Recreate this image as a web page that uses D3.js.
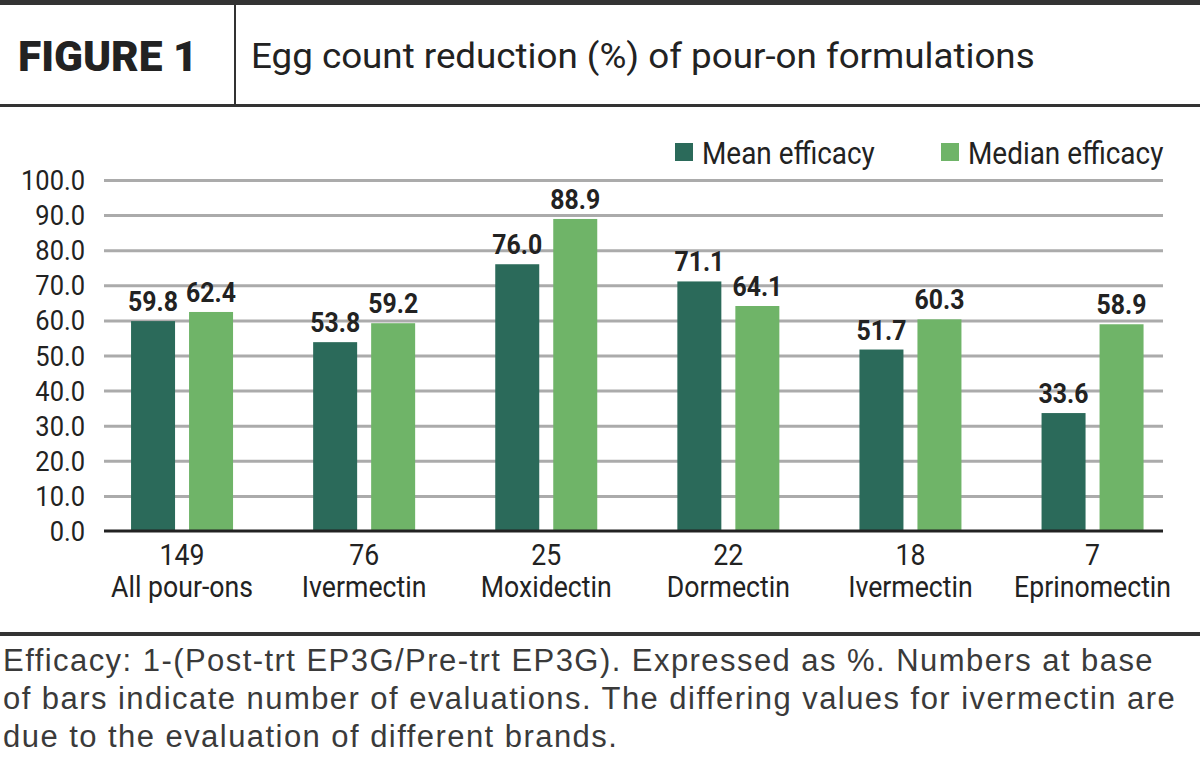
<!DOCTYPE html>
<html>
<head>
<meta charset="utf-8">
<script src="https://cdn.jsdelivr.net/npm/d3@7"></script>
<style>
  html, body { margin: 0; padding: 0; background: #fff; }
  svg { display: block; }
</style>
</head>
<body>
<div id="chart"></div>
<script>
// ---- data ----
const counts = [149, 76, 25, 22, 18, 7];
const drugs = ['All pour-ons', 'Ivermectin', 'Moxidectin', 'Dormectin', 'Ivermectin', 'Eprinomectin'];
const meanEfficacy = [59.8, 53.8, 76.0, 71.1, 51.7, 33.6];
const medianEfficacy = [62.4, 59.2, 88.9, 64.1, 60.3, 58.9];
const seriesNames = ['Mean efficacy', 'Median efficacy'];
const yTicks = [0, 10, 20, 30, 40, 50, 60, 70, 80, 90, 100];
const footnote = [
  'Efficacy: 1-(Post-trt EP3G/Pre-trt EP3G). Expressed as %. Numbers at base',
  'of bars indicate number of evaluations. The differing values for ivermectin are',
  'due to the evaluation of different brands.'
];

const COLORS = { mean: '#2b6a5a', median: '#6fb468', grid: '#ababab', ink: '#222', rule: '#333' };
const FONT = "Roboto, 'Liberation Sans', sans-serif";

const W = 1200, H = 763;
const svg = d3.select('#chart').append('svg')
  .attr('width', W).attr('height', H)
  .attr('viewBox', `0 0 ${W} ${H}`);

// text helper: place at x,y and stretch/squeeze horizontally by sx
function label(parent, x, y, txt, opts = {}) {
  return parent.append('text')
    .attr('transform', `translate(${x},${y}) scale(${opts.sx || 1},1)`)
    .attr('text-anchor', opts.anchor || 'start')
    .attr('fill', opts.color || COLORS.ink)
    .style('font-family', opts.family || FONT)
    .style('font-size', (opts.size || 26) + 'px')
    .style('font-weight', opts.weight || 400)
    .style('letter-spacing', opts.spacing ? opts.spacing + 'px' : null)
    .text(txt);
}

// ---- header ----
svg.append('rect').attr('x', 0).attr('y', 0).attr('width', W).attr('height', 5).attr('fill', COLORS.rule);
svg.append('rect').attr('x', 0).attr('y', 104).attr('width', W).attr('height', 3).attr('fill', COLORS.rule);
svg.append('rect').attr('x', 234).attr('y', 5).attr('width', 2).attr('height', 99).attr('fill', COLORS.rule);
label(svg, 18, 71, 'FIGURE 1', { size: 42, weight: 900, sx: 1.01, color: '#222' });
label(svg, 251, 68, 'Egg count reduction (%) of pour-on formulations', { size: 35, sx: 1.05, color: '#222' });

// ---- chart ----
const x0 = d3.scaleBand().domain(d3.range(counts.length)).range([91, 1183.6]);
const x1 = d3.scaleBand().domain(seriesNames).range([x0.bandwidth() / 2 - 51, x0.bandwidth() / 2 + 51])
  .paddingInner(0.2414);
const y = d3.scaleLinear().domain([0, 100]).range([531, 180]);

const plot = svg.append('g');

// grid lines
plot.append('g')
  .attr('transform', 'translate(104,0)')
  .call(d3.axisLeft(y).tickValues(yTicks.slice(1)).tickSize(-1059).tickFormat(''))
  .call(g => g.select('.domain').remove())
  .call(g => g.selectAll('line').attr('stroke', COLORS.grid).attr('stroke-width', 3));

// y labels
yTicks.forEach(t => {
  label(plot, 85, y(t) + 10, d3.format('.1f')(t), { anchor: 'end', size: 28, sx: 0.91, color: '#222' });
});

const rows = counts.map((c, i) => ({ i, values: [meanEfficacy[i], medianEfficacy[i]] }));
const groups = plot.selectAll('g.grp').data(rows).join('g')
  .attr('class', 'grp')
  .attr('transform', d => `translate(${x0(d.i)},0)`);

groups.selectAll('rect').data(d => d.values.map((v, k) => ({ k, v }))).join('rect')
  .attr('x', d => x1(seriesNames[d.k]))
  .attr('width', x1.bandwidth())
  .attr('y', d => y(d.v))
  .attr('height', d => y(0) - y(d.v))
  .attr('fill', d => d.k === 0 ? COLORS.mean : COLORS.median);

groups.each(function (d) {
  const g = d3.select(this);
  d.values.forEach((v, k) => {
    const cx = x1(seriesNames[k]) + x1.bandwidth() / 2;
    label(g, cx, y(v) - 10, d3.format('.1f')(v), { anchor: 'middle', size: 27, weight: 700, sx: 0.92, color: '#222' });
  });
  const cx = x0.bandwidth() / 2;
  label(g, cx, 565, String(counts[d.i]), { anchor: 'middle', size: 29, sx: 0.92, color: '#222' });
  label(g, cx, 597, drugs[d.i], { anchor: 'middle', size: 29, sx: 0.92, color: '#222' });
});

// zero axis
plot.append('line')
  .attr('x1', 104).attr('x2', 1163)
  .attr('y1', y(0)).attr('y2', y(0))
  .attr('stroke', COLORS.ink).attr('stroke-width', 3);

// ---- legend ----
const legendX = [675, 941];
seriesNames.forEach((name, k) => {
  const lg = svg.append('g').attr('transform', `translate(${legendX[k]},143)`);
  lg.append('rect').attr('width', 18).attr('height', 18)
    .attr('fill', k === 0 ? COLORS.mean : COLORS.median);
  label(lg, 27, 21, name, { size: 31, sx: 0.9, color: '#222' });
});

// ---- footer ----
svg.append('rect').attr('x', 0).attr('y', 632).attr('width', W).attr('height', 4).attr('fill', COLORS.rule);
footnote.forEach((line, i) => {
  label(svg, 3, 671 + i * 38, line, { size: 31, spacing: 1.45, color: '#3a3a3a', family: "'Liberation Sans', Arial, sans-serif" });
});
</script>
</body>
</html>
